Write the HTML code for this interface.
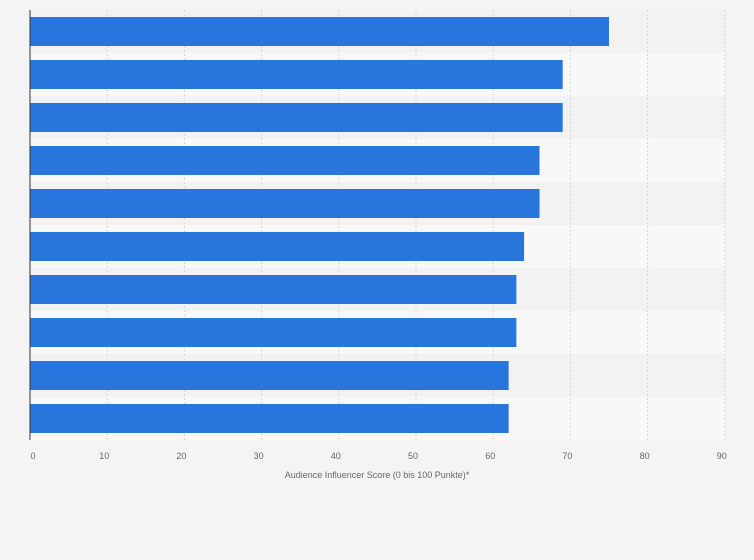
<!DOCTYPE html>
<html><head><meta charset="utf-8"><style>
body{margin:0;background:#f4f4f4;font-family:"Liberation Sans",sans-serif;}
svg{display:block}
</style></head><body>
<svg id="chart" width="754" height="560">
<rect x="0" y="0" width="754" height="560" fill="#f4f4f4"/>
<g id="bands"></g><g id="grid"></g><g id="bars"></g><g id="ticks"></g>
<line x1="30" y1="10" x2="30" y2="440" stroke="#333" stroke-width="1"/>
<text x="377" y="478" text-anchor="middle" font-size="9" fill="#666">Audience Influencer Score (0 bis 100 Punkte)*</text>
</svg>
<script>
const values=[75,69,69,66,66,64,63,63,62,62];
const tickValues=[0,10,20,30,40,50,60,70,80,90];
const tickLabels=["0","10","20","30","40","50","60","70","80","90"];
const NS="http://www.w3.org/2000/svg";
const x0=30,pxPerUnit=7.72,plotTop=10,rowH=43;
function xs(v){return x0+v*pxPerUnit;}
function ys(i){return plotTop+i*rowH;}
function mk(t,a,p){const e=document.createElementNS(NS,t);for(const k in a)e.setAttribute(k,a[k]);p.appendChild(e);return e;}
const bands=document.getElementById('bands'),grid=document.getElementById('grid'),bars=document.getElementById('bars'),ticks=document.getElementById('ticks');
values.forEach((v,i)=>{
  const b=mk('rect',{x:x0,y:ys(i),width:xs(90)-x0,height:rowH,fill:i%2?'#f8f8f8':'#f2f2f2'},bands);
  
  
});
tickValues.forEach((t,i)=>{
  if(t>0){const g=mk('line',{x1:xs(t),x2:xs(t),y1:plotTop,y2:ys(values.length),stroke:'#d6d6d6','stroke-dasharray':'2,2'},grid);
  
  }
  const l=mk('text',{x:xs(t)+(t===0?3:-3),y:459,'text-anchor':'middle','font-size':'9',fill:'#666'},ticks);
  l.textContent=tickLabels[i];
  
  
});
values.forEach((v,i)=>{
  const r=mk('rect',{x:x0,y:ys(i)+7,width:xs(v)-x0,height:29,fill:'#2876dd'},bars);
  
  
});
</script>
</body></html>
